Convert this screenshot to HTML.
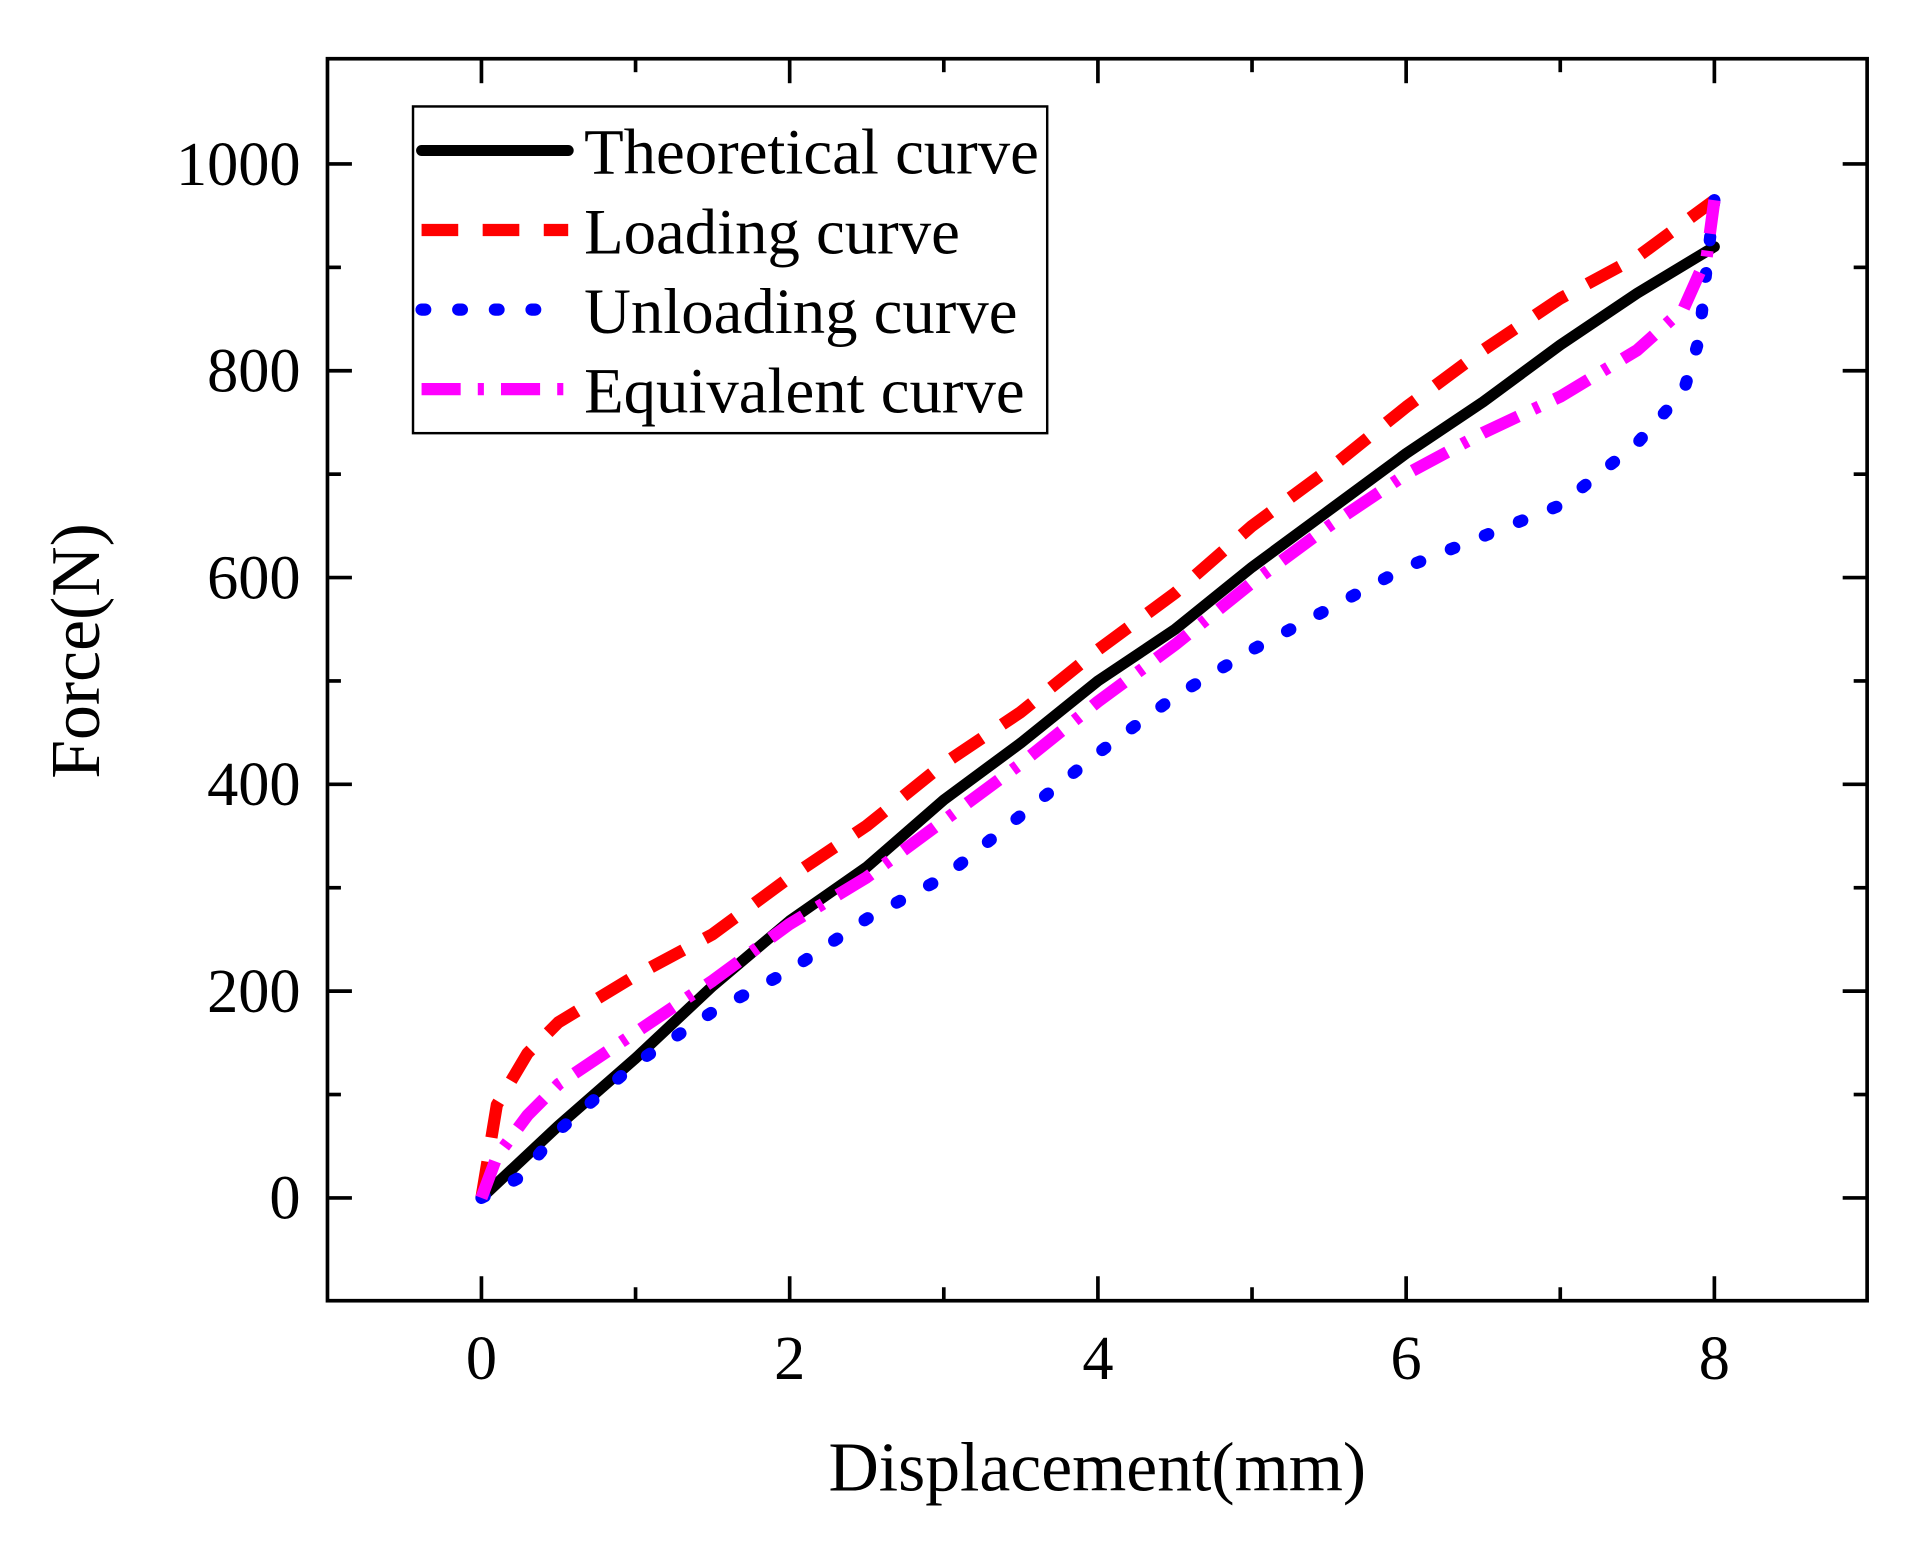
<!DOCTYPE html>
<html><head><meta charset="utf-8"><style>
html,body{margin:0;padding:0;background:#fff;}
svg{display:block;}
text{font-family:"Liberation Serif",serif;fill:#000;}
</style></head><body>
<svg id="chart" width="1916" height="1554" viewBox="0 0 1568 1270" preserveAspectRatio="none" xmlns="http://www.w3.org/2000/svg">
<g id="axes"></g>
<g id="series"></g>
<g id="legend"></g>
</svg>
<script>
const xTicks=[0,2,4,6,8];
const yTicks=[0,200,400,600,800,1000];
const theoX=[0,0.5,1,1.5,2,2.5,3,3.5,4,4.5,5,5.5,6,6.5,7,7.5,8];
const theoY=[0,70,135,205,268,320,385,440,500,550,610,665,720,770,825,875,920];
const loadX=[0,0.05,0.1,0.3,0.5,1,1.5,2,2.5,3,3.5,4,4.5,5,5.5,6,6.5,7,7.5,8];
const loadY=[0,45,90,140,170,215,255,310,360,420,470,530,585,650,705,765,820,870,910,965];
const unloadX=[8,7.95,7.9,7.8,7.5,7,6.5,6,5.5,5,4.5,4,3.5,3,2.5,2,1.5,1,0.5,0.25,0];
const unloadY=[965,900,830,780,730,670,640,610,570,530,485,430,370,310,270,220,180,130,65,20,0];
const equivX=[0,0.1,0.3,0.5,1,1.5,2,2.5,3,3.5,4,4.5,5,5.5,6,6.5,7,7.5,7.8,7.95,8];
const equivY=[0,40,80,110,160,210,265,310,365,420,480,535,595,650,700,740,775,820,860,910,965];

const NS="http://www.w3.org/2000/svg";
const L=268,R=1528,T=48,B=1063;
const sx=v=>394+v*(1403-394)/8;
const sy=v=>979-v*(979-134)/1000;
function mk(tag,attrs,parent){const e=document.createElementNS(NS,tag);for(const k in attrs)e.setAttribute(k,attrs[k]);parent.appendChild(e);return e;}
const axes=document.getElementById('axes');
const frame=mk('rect',{x:L,y:T,width:R-L,height:B-T,fill:'none',stroke:'#000','stroke-width':3},axes);


for(let v=-1;v<=9;v++){
  const maj=v%2===0; const len=maj?20:11; const x=sx(v);
  if(x<=L+2||x>=R-2)continue;
  const t1=mk('line',{x1:x,y1:B,x2:x,y2:B-len,stroke:'#000','stroke-width':3},axes);
  
  
  const t2=mk('line',{x1:x,y1:T,x2:x,y2:T+len,stroke:'#000','stroke-width':3},axes);
  
  
}
xTicks.forEach(v=>{
  const t=mk('text',{x:sx(v),y:1127,'font-size':51,'text-anchor':'middle'},axes);t.textContent=v;
  
  
});
for(let v=-100;v<=1100;v+=100){
  const maj=v%200===0; const len=maj?20:11; const y=sy(v);
  if(y<=T+2||y>=B-2)continue;
  const t1=mk('line',{x1:L,y1:y,x2:L+len,y2:y,stroke:'#000','stroke-width':3},axes);
  
  
  const t2=mk('line',{x1:R,y1:y,x2:R-len,y2:y,stroke:'#000','stroke-width':3},axes);
  
  
}
yTicks.forEach(v=>{
  const t=mk('text',{x:246,y:sy(v)+17,'font-size':51,'text-anchor':'end'},axes);t.textContent=v;
  
  
});
const xt=mk('text',{x:898,y:1218,'font-size':57,'text-anchor':'middle'},axes);xt.textContent='Displacement(mm)';


const yt=mk('text',{x:0,y:0,'font-size':57,'text-anchor':'middle',transform:'translate(81,532) rotate(-90)'},axes);yt.textContent='Force(N)';



const series=document.getElementById('series');
const styles=[
 {x:theoX,y:theoY,c:'#000',d:'',w:9,cap:'round',n:'theoretical-curve',lab:'Theoretical curve'},
 {x:loadX,y:loadY,c:'#ff0000',d:'30 20',w:10,cap:'butt',n:'loading-curve',lab:'Loading curve'},
 {x:unloadX,y:unloadY,c:'#0000ff',d:'3 27',w:10,cap:'round',n:'unloading-curve',lab:'Unloading curve'},
 {x:equivX,y:equivY,c:'#ff00ff',d:'32 14 5 14',w:10,cap:'butt',n:'equivalent-curve',lab:'Equivalent curve'}
];
styles.forEach(s=>{
  const p=s.x.map((v,i)=>sx(v).toFixed(1)+','+sy(s.y[i]).toFixed(1)).join(' ');
  const pl=mk('polyline',{points:p,fill:'none',stroke:s.c,'stroke-width':s.w,'stroke-dasharray':s.d,'stroke-linecap':s.cap,'stroke-linejoin':'round'},series);
  
  
});
const legend=document.getElementById('legend');
const lb=mk('rect',{x:338,y:87,width:519,height:267,fill:'#fff',stroke:'#000','stroke-width':2},legend);


styles.forEach((s,i)=>{
  const y=123+i*65;
  const ln=mk('line',{x1:345,y1:y,x2:465,y2:y,stroke:s.c,'stroke-width':s.w,'stroke-dasharray':s.d,'stroke-linecap':s.cap},legend);
  
  
  const t=mk('text',{x:478,y:y+19,'font-size':53},legend);t.textContent=s.lab;
  
  
});
</script>
</body></html>
